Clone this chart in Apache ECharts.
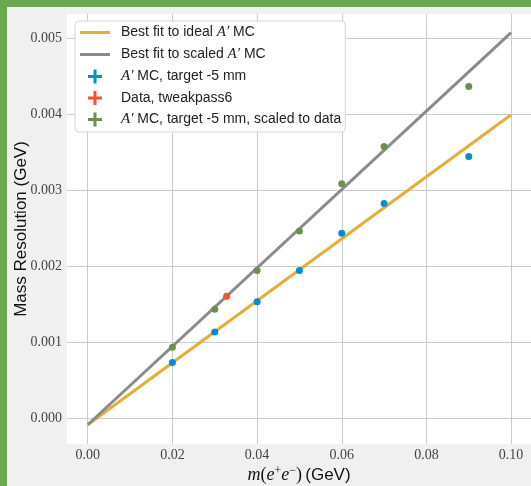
<!DOCTYPE html>
<html>
<head>
<meta charset="utf-8">
<script src="https://cdn.jsdelivr.net/npm/echarts@6/dist/echarts.min.js"></script>
<style>
html,body{margin:0;padding:0;background:#f0f0f0;}
#chart{width:531px;height:486px;}
</style>
</head>
<body>
<div id="chart"></div>
<script>
// ---- data ----
const xTicks = [0.00, 0.02, 0.04, 0.06, 0.08, 0.10];
const yTicks = [0.000, 0.001, 0.002, 0.003, 0.004, 0.005];

const mcX = [0.02, 0.03, 0.04, 0.05, 0.06, 0.07, 0.09];
const mcY = [0.00074, 0.00114, 0.00154, 0.00195, 0.00244, 0.00283, 0.00345];

const scaledX = [0.02, 0.03, 0.04, 0.05, 0.06, 0.07, 0.09];
const scaledY = [0.00094, 0.00144, 0.00195, 0.00247, 0.00309, 0.00358, 0.00437];

const dataX = [0.0328];
const dataY = [0.00161];

const fitIdealX = [0.0, 0.10];
const fitIdealY = [-0.00008, 0.00400];
const fitScaledX = [0.0, 0.10];
const fitScaledY = [-0.00008, 0.00508];

const seriesNames = [
  'Best fit to ideal A\u2032 MC',
  'Best fit to scaled A\u2032 MC',
  'A\u2032 MC, target -5 mm',
  'Data, tweakpass6',
  'A\u2032 MC, target -5 mm, scaled to data'
];

const pair = (xs, ys) => xs.map((x, i) => [x, ys[i]]);

const chart = echarts.init(document.getElementById('chart'), null, {renderer: 'canvas'});

const plusIcon = 'path://M5.5,0H8.5V14H5.5Z M0,5.5H14V8.5H0Z';
const lineIcon = 'path://M0,0H30V3H0Z';

const option = {
  backgroundColor: '#f0f0f0',
  animation: false,
  grid: {
    left: 67, right: 0, top: 14, bottom: 42,
    outerBoundsMode: 'none',
    containLabel: false,
    show: true, backgroundColor: '#ffffff', borderWidth: 0
  },
  graphic: [
    {type: 'rect', left: 0, top: 0, shape: {width: 531, height: 7}, style: {fill: '#6aa84f'}, z: 100},
    {type: 'rect', left: 0, top: 0, shape: {width: 7, height: 486}, style: {fill: '#6aa84f'}, z: 100}
  ],
  legend: {
    orient: 'vertical',
    left: 75, top: 21,
    padding: [4, 4, 5, 5],
    itemGap: 7, itemWidth: 30, itemHeight: 14,
    backgroundColor: '#ffffff',
    borderColor: '#d4d4d4', borderWidth: 1, borderRadius: 4,
    selectedMode: false,
    itemStyle: {opacity: 1},
    textStyle: {
      fontFamily: 'Liberation Sans', fontSize: 14, color: '#222',
      padding: [0, 0, 0, 6],
      rich: {
        a: {fontFamily: 'Liberation Serif', fontStyle: 'italic', fontSize: 15, color: '#222'}
      }
    },
    formatter: function (name) {
      return name.replace('A\u2032', '{a|A\u2032}');
    },
    data: [
      {name: seriesNames[0], icon: lineIcon},
      {name: seriesNames[1], icon: lineIcon},
      {name: seriesNames[2], icon: plusIcon},
      {name: seriesNames[3], icon: plusIcon},
      {name: seriesNames[4], icon: plusIcon}
    ]
  },
  xAxis: {
    type: 'value',
    min: -0.0049, max: 0.1047,
    axisLine: {show: false},
    axisTick: {show: false, customValues: xTicks},
    axisLabel: {
      customValues: xTicks,
      formatter: v => v.toFixed(2),
      fontFamily: 'Liberation Serif', fontSize: 14, color: '#444', margin: 4
    },
    splitLine: {show: true, lineStyle: {color: '#cbcbcb', width: 1}},
    name: '{i|m}{r|(}{i|e}{sup|+}{i|e}{sup|\u2212}{r|)} {s|(GeV)}',
    nameLocation: 'middle',
    nameGap: 21,
    nameMoveOverlap: false,
    nameTextStyle: {
      rich: {
        i: {fontFamily: 'Liberation Serif', fontStyle: 'italic', fontSize: 18, color: '#111'},
        r: {fontFamily: 'Liberation Serif', fontSize: 18, color: '#111'},
        sup: {fontFamily: 'Liberation Serif', fontSize: 12, color: '#111', padding: [0, 0, 9, 0]},
        s: {fontFamily: 'Liberation Sans', fontSize: 17, color: '#111'}
      }
    }
  },
  yAxis: {
    type: 'value',
    min: -0.000333, max: 0.005325,
    axisLine: {show: false},
    axisTick: {show: false, customValues: yTicks},
    axisLabel: {
      customValues: yTicks,
      formatter: v => v.toFixed(3),
      fontFamily: 'Liberation Serif', fontSize: 14, color: '#444', margin: 5
    },
    splitLine: {show: true, lineStyle: {color: '#cbcbcb', width: 1}},
    name: 'Mass Resolution (GeV)',
    nameLocation: 'middle',
    nameGap: 37,
    nameRotate: 90,
    nameMoveOverlap: false,
    nameTextStyle: {fontFamily: 'Liberation Sans', fontSize: 17, color: '#111'}
  },
  series: [
    {
      name: seriesNames[0], type: 'line', data: pair(fitIdealX, fitIdealY),
      showSymbol: false, symbol: 'none', color: '#e5ae38',
      lineStyle: {width: 3, color: '#e5ae38'}, z: 2
    },
    {
      name: seriesNames[1], type: 'line', data: pair(fitScaledX, fitScaledY),
      showSymbol: false, symbol: 'none', color: '#8b8b8b',
      lineStyle: {width: 3, color: '#8b8b8b'}, z: 2
    },
    {
      name: seriesNames[2], type: 'scatter', data: pair(mcX, mcY),
      symbol: 'circle', symbolSize: 7, color: '#008fd5',
      itemStyle: {opacity: 1}, z: 3
    },
    {
      name: seriesNames[3], type: 'scatter', data: pair(dataX, dataY),
      symbol: 'circle', symbolSize: 7, color: '#fc4f30',
      itemStyle: {opacity: 1}, z: 3
    },
    {
      name: seriesNames[4], type: 'scatter', data: pair(scaledX, scaledY),
      symbol: 'circle', symbolSize: 7, color: '#6d904f',
      itemStyle: {opacity: 1}, z: 3
    }
  ]
};
chart.setOption(option);
</script>
</body>
</html>
